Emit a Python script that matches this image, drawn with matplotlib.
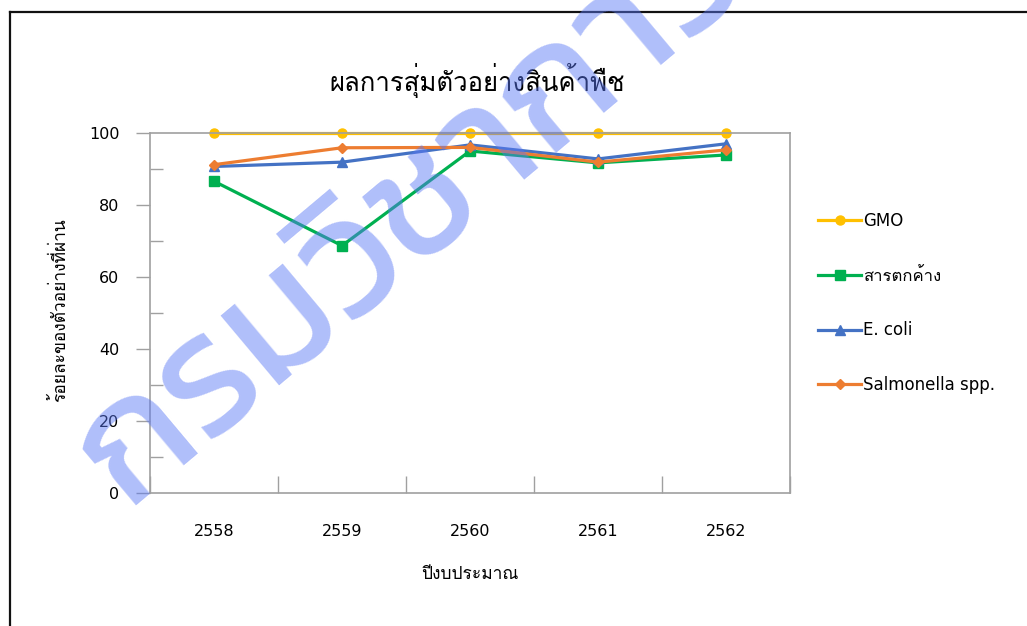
import matplotlib
matplotlib.use('Agg')
import matplotlib.pyplot as plt
from matplotlib.lines import Line2D
from matplotlib.ticker import MultipleLocator, FixedLocator

years = ['2558', '2559', '2560', '2561', '2562']
series_names = ['GMO', 'สารตกค้าง', 'E. coli', 'Salmonella spp.']
gmo = [100, 100, 100, 100, 100]
residue = [86.6, 68.7, 95.0, 91.7, 93.9]
ecoli = [90.7, 91.9, 96.7, 92.8, 97.0]
salmonella = [91.2, 95.9, 96.0, 91.9, 95.3]

colors = ['#FFC000', '#00B050', '#4472C4', '#ED7D31']
markers = ['o', 's', '^', 'D']
msizes = [6.5, 6.5, 7.5, 5.5]

# latin in DejaVu, thai falls back to Loma
plt.rcParams['font.family'] = ['DejaVu Sans', 'Loma']

fig = plt.figure(figsize=(10.27, 6.26), dpi=100)
ax = fig.add_axes([150 / 1027, 1 - 493 / 626, 640 / 1027, 360 / 626])

x = list(range(len(years)))
for vals, name, c, m, ms in zip([gmo, residue, ecoli, salmonella], series_names, colors, markers, msizes):
	ax.plot(x, vals, color=c, lw=2.3, marker=m, markersize=ms, label=name, clip_on=False)

ax.set_xlim(-0.5, len(years) - 0.5)
ax.set_ylim(0, 100)

# y: labelled ticks every 20 pointing out, minor every 10 pointing in
ax.yaxis.set_major_locator(MultipleLocator(20))
ax.yaxis.set_minor_locator(MultipleLocator(10))
ax.tick_params(axis='y', which='major', direction='out', length=10, width=1, color='#a0a0a0', labelsize=11.5, pad=12)
ax.tick_params(axis='y', which='minor', direction='in', length=9, width=1, color='#a0a0a0')

# x: ticks between categories, labels at categories
ax.xaxis.set_major_locator(FixedLocator(x))
ax.set_xticklabels(years)
ax.xaxis.set_minor_locator(FixedLocator([i - 0.5 for i in range(len(years) + 1)]))
ax.tick_params(axis='x', which='major', length=0, labelsize=11.5, pad=22)
ax.tick_params(axis='x', which='minor', direction='in', length=12, width=1, color='#a0a0a0')

for s in ax.spines.values():
	s.set_color('#a0a0a0')
	s.set_linewidth(1.2)

ax.set_xlabel('ปีงบประมาณ', fontsize=12.5, labelpad=19)
fig.text(0.058, 1 - 310 / 626, 'ร้อยละของตัวอย่างที่ผ่าน', rotation=90, fontsize=12.5, ha='center', va='center')
fig.text(477 / 1027, 1 - 80 / 626, 'ผลการสุ่มตัวอย่างสินค้าพืช', fontsize=18.5, ha='center', va='center')

ax.legend(loc='upper left', bbox_to_anchor=(818 / 1027, 1 - 212 / 626), bbox_transform=fig.transFigure,
	frameon=False, fontsize=12, handlelength=2.6, handletextpad=0.1, labelspacing=2.2, borderpad=0, borderaxespad=0)

# page frame (top and left edge)
fig.add_artist(Line2D([10 / 1027, 1.0], [1 - 12 / 626] * 2, color='#111111', lw=1.6, transform=fig.transFigure))
fig.add_artist(Line2D([10 / 1027] * 2, [0.0, 1 - 12 / 626], color='#111111', lw=1.6, transform=fig.transFigure))

# watermark
fig.text(125 / 1027, 1 - 508 / 626, 'กรมวิชาการ', fontsize=122, fontweight='normal', family='Kanit',
	color='#5a78f5', alpha=0.48, rotation=40, rotation_mode='anchor', ha='left', va='baseline', zorder=10)

fig.savefig('out.png')
